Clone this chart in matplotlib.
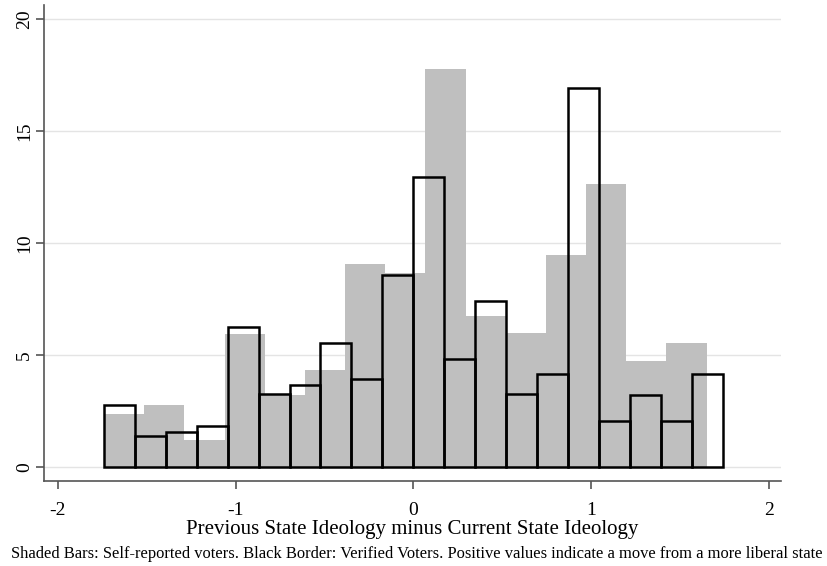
import numpy as np
import matplotlib.pyplot as plt

# bins: verified voters (black outline) and self-reported (shaded)
verified_edges = np.linspace(-1.74, 1.74, 21)
verified_pct = [2.77, 1.40, 1.59, 1.86, 6.25, 3.26, 3.69, 5.56, 3.94, 8.58,
                12.97, 4.85, 7.42, 3.26, 4.15, 16.92, 2.07, 3.24, 2.07, 4.15]

selfrep_edges = np.linspace(-1.74, 1.65, 16)
selfrep_pct = [2.37, 2.78, 1.22, 5.94, 3.23, 4.34, 9.10, 8.69, 17.78, 6.77,
               5.98, 9.48, 12.65, 4.76, 5.55]

xticks = [-2, -1, 0, 1, 2]
yticks = [0, 5, 10, 15, 20]

plt.rcParams['font.family'] = ['Liberation Serif', 'DejaVu Serif']

fig = plt.figure(figsize=(8.28, 5.66), dpi=100)
ax = fig.add_axes([0.0535, 0.150, 0.8895, 0.841])

for y in yticks:
    ax.axhline(y, color='#e4e4e4', lw=1.0, zorder=0)

w_self = np.diff(selfrep_edges)
ax.bar(selfrep_edges[:-1], selfrep_pct, width=w_self, align='edge',
       color='#bfbfbf', linewidth=0, zorder=1)

w_ver = np.diff(verified_edges)
ax.bar(verified_edges[:-1], verified_pct, width=w_ver, align='edge',
       fill=False, edgecolor='black', linewidth=1.8, zorder=2)

ax.set_xlim(-2.076, 2.068)
ax.set_ylim(-0.61, 20.64)
ax.set_xticks(xticks)
ax.set_xticklabels([str(t) for t in xticks], fontsize=14)
ax.set_yticks(yticks)
ax.set_yticklabels([str(t) for t in yticks], fontsize=14, rotation=90, va='center')

for s in ['top', 'right']:
    ax.spines[s].set_visible(False)
for s in ['left', 'bottom']:
    ax.spines[s].set_color('#555555')
    ax.spines[s].set_linewidth(1.2)
ax.tick_params(axis='both', color='#555555', width=1.2, length=6)
ax.tick_params(axis='x', pad=9)
ax.tick_params(axis='y', pad=2)

ax.set_xlabel('Previous State Ideology minus Current State Ideology', fontsize=15, labelpad=1)

fig.text(0.504, 0.021, 'Shaded Bars: Self-reported voters. Black Border: Verified Voters. '
         'Positive values indicate a move from a more liberal state',
         ha='center', va='center', fontsize=11.9)

fig.savefig('out.png', dpi=100)
